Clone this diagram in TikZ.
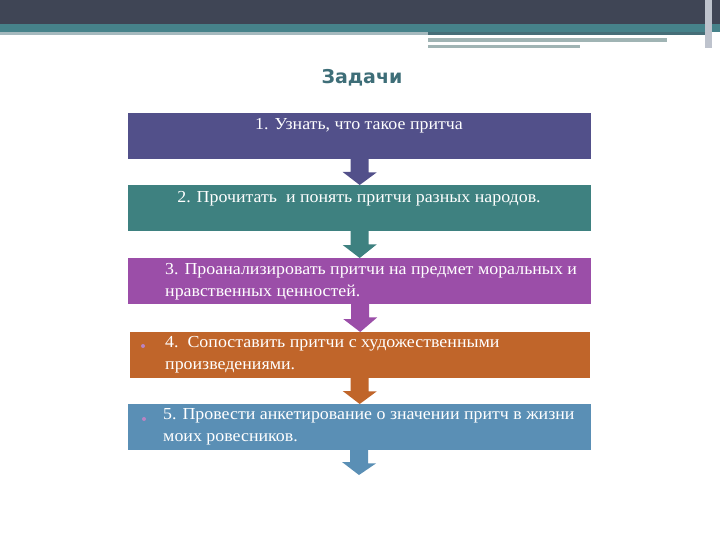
\documentclass[tikz,border=0pt]{standalone}
\usepackage{fontspec}
\setmainfont[FakeStretch=1.065]{Liberation Serif}
\newfontfamily\titlefont{DejaVu Sans}
\begin{document}
\begin{tikzpicture}[x=1pt,y=-1pt,
  stepbox/.style={minimum width=463pt,minimum height=46pt,inner sep=0pt,anchor=north west},
  txt/.style={text=white,font=\fontsize{16.8}{22}\selectfont,anchor=north west,align=left,inner sep=0pt},
  bul/.style={fill=#1,circle,inner sep=0pt,minimum size=4pt}]
\useasboundingbox (0,0) rectangle (720,540);
\fill[white] (0,0) rectangle (720,540);
% top bands
\fill[fill={rgb,255:red,63;green,69;blue,85}] (0,0) rectangle (720,24);
\fill[fill={rgb,255:red,70;green,130;blue,138}] (0,24) rectangle (720,32);
\fill[fill={rgb,255:red,165;green,185;blue,190}] (0,32) rectangle (428,35);
\fill[fill={rgb,255:red,70;green,110;blue,120}] (428,32) rectangle (705,35);
\fill[fill={rgb,255:red,160;green,180;blue,180}] (428,38) rectangle (667,42);
\fill[fill={rgb,255:red,160;green,180;blue,180}] (428,45) rectangle (580,48);
\fill[fill={rgb,255:red,190;green,195;blue,205}] (705,0) rectangle (712,48);
% title
\node[font=\titlefont\bfseries\fontsize{19}{22}\selectfont,text={rgb,255:red,62;green,110;blue,120}] (title) at (362,78) {Задачи};
% colors
\definecolor{c1}{RGB}{82,80,138}
\definecolor{c2}{RGB}{62,129,128}
\definecolor{c3}{RGB}{155,78,168}
\definecolor{c4}{RGB}{192,101,42}
\definecolor{c5}{RGB}{90,143,181}
% boxes
\node[stepbox,fill=c1] (b1) at (128,113) {};
\node[stepbox,fill=c2] (b2) at (128,185) {};
\node[stepbox,fill=c3] (b3) at (128,258) {};
\node[stepbox,fill=c4,minimum width=460pt] (b4) at (130,332) {};
\node[stepbox,fill=c5] (b5) at (128,404) {};
\coordinate (end) at (359,475);
% arrows
\foreach \b/\c/\d in {b1/c1/b2,b2/c2/b3,b3/c3/b4,b4/c4/b5,b5/c5/end}{
  \fill[\c] (\b.south-|\d) ++(-9,-0.5) -- ++(18,0) -- ++(0,13.5) -- ++(8,0) -- (\d.north) -- ++(-17,-13) -- ++(8,0) -- cycle;}
% texts
\node[txt,anchor=north] (t1) at (359,118) {1. Узнать, что такое притча};
\node[txt,anchor=north] (t2) at (359,191) {2. Прочитать\ \ и понять притчи разных народов.};
\node[txt] (t3) at (165,263) {3. Проанализировать притчи на предмет моральных и\\нравственных ценностей.};
\node[bul=c3!70] (u4) at (143,346) {};
\node[txt] (t4) at (165,336) {4.\ \ Сопоставить притчи с художественными\\произведениями.};
\node[bul=c3!70] (u5) at (144,419) {};
\node[txt] (t5) at (163,408) {5. Провести анкетирование о значении притч в жизни\\моих ровесников.};
\end{tikzpicture}
\end{document}
